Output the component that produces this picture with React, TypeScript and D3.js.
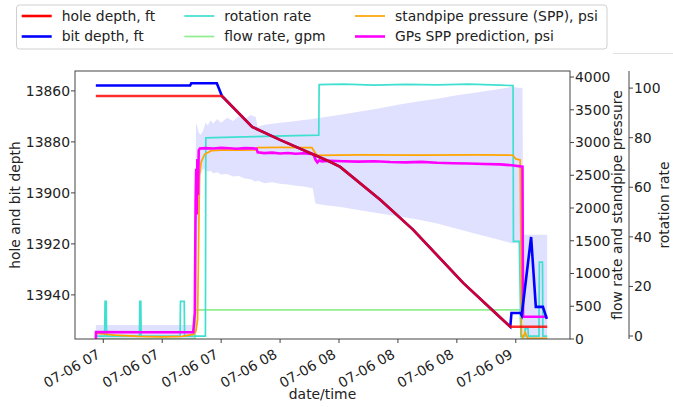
import React from "react";
import * as d3 from "d3";

// ---- data (time in minutes after 07:00 on 07-06) ----
const holeT = [13.1, 45.2, 52.9, 60.0, 72.7, 75.3, 85.5, 93.9, 106.6, 115.3, 118.6, 128.0];
const holeDepth = [13862.0, 13862.0, 13874.1, 13879.2, 13887.8, 13889.8, 13902.7, 13914.5, 13935.3, 13947.8, 13952.5, 13952.5];

const bitT = [13.1, 37.1, 37.4, 43.9, 45.2, 52.9, 60.0, 72.7, 75.3, 85.5, 93.9, 106.6, 115.3, 118.6, 118.9, 121.2, 121.5, 123.9, 125.1, 126.9, 127.9];
const bitDepth = [13857.9, 13857.9, 13857.0, 13857.0, 13862.0, 13874.1, 13879.2, 13887.8, 13889.8, 13902.7, 13914.5, 13935.3, 13947.8, 13952.5, 13947.1, 13947.1, 13948.0, 13917.3, 13944.7, 13944.7, 13949.4];

const rotT = [13.1, 15.35, 15.45, 15.75, 15.85, 24.2, 24.3, 24.55, 24.65, 34.55, 34.65, 35.6, 35.7, 41.0, 41.1, 48, 56, 64, 69.85, 69.95, 76, 84, 92, 100, 108, 116, 119.3, 119.4, 120.9, 121.3, 122.3, 122.4, 123.1, 123.2, 125.9, 126.0, 126.8, 126.9, 128.0];
const rotRate = [0, 0, 14, 14, 0, 0, 14, 14, 0, 0, 14, 14, 0, 0, 79.9, 80.2, 80.5, 80.8, 81.0, 101.4, 101.6, 101.2, 101.5, 101.3, 101.6, 101.2, 101.0, 38.2, 38.2, 0, 0, 3, 3, 0, 0, 29.8, 29.8, 0, 0];

const flowT = [13.1, 38.3, 38.4, 121.1, 121.4, 128.0];
const flowRate = [0, 0, 445, 445, 0, 0];

const sppT = [13.1, 18, 24, 30, 35, 37.9, 38.6, 39.0, 39.5, 39.9, 40.8, 42.5, 45, 50, 53.8, 54.3, 60, 66, 68.1, 69.2, 69.6, 80, 95, 110, 119.3, 120.0, 121.1, 121.5, 121.8, 122.4, 123.0, 128.0];
const sppVal = [90, 60, 40, 32, 40, 70, 120, 300, 2500, 2700, 2820, 2875, 2885, 2885, 2888, 2921, 2925, 2922, 2921, 2820, 2805, 2810, 2808, 2812, 2806, 2750, 2733, 60, 20, 100, 10, 10];

const gpT = [13.1, 13.15, 25, 37.9, 38.3, 38.5, 38.65, 38.8, 38.95, 39.1, 39.3, 39.6, 41, 43, 45, 47, 49, 51, 53, 54.0, 54.3, 56, 58, 60, 62, 64, 66, 68.5, 69.0, 69.5, 70.0, 70.6, 72.7, 76, 80, 84, 88, 92, 96, 100, 104, 108, 112, 116, 119, 121.7, 121.85, 128.0];
const gpVal = [0, 105, 103, 102, 400, 2100, 2600, 1900, 2750, 2200, 2880, 2910, 2915, 2908, 2918, 2912, 2905, 2914, 2910, 2906, 2850, 2838, 2846, 2832, 2841, 2828, 2836, 2822, 2740, 2695, 2728, 2712, 2722, 2715, 2708, 2714, 2702, 2697, 2705, 2690, 2684, 2679, 2672, 2666, 2652, 2631, 340, 340];

const bandT = [13.1, 37.9, 38.3, 38.6, 38.9, 39.3, 39.8, 40.4, 41.0, 41.6, 42.3, 43.0, 44.0, 45.0, 46.5, 48.0, 49.5, 51.0, 52.5, 53.8, 54.3, 56, 58, 60, 62, 64, 66, 68.3, 69.0, 69.5, 72, 75, 80, 85, 90, 95, 100, 105, 110, 115, 119.0, 121.7, 121.9, 128.0];
const bandHi = [215, 215, 600, 3300, 3250, 3150, 3120, 3180, 3300, 3260, 3340, 3290, 3360, 3300, 3380, 3330, 3400, 3350, 3420, 3390, 3240, 3270, 3285, 3300, 3315, 3330, 3345, 3360, 3370, 3372, 3395, 3420, 3470, 3520, 3575, 3625, 3670, 3720, 3765, 3810, 3850, 3830, 1590, 1590];
const bandLo = [-300, -300, -300, -300, 1500, 2200, 2500, 2600, 2580, 2555, 2570, 2530, 2545, 2510, 2520, 2480, 2490, 2450, 2440, 2400, 2420, 2380, 2395, 2370, 2360, 2340, 2330, 2300, 2070, 2060, 2040, 2020, 1970, 1920, 1875, 1825, 1765, 1683, 1604, 1525, 1461, 1461, -300, -300];

const xTickMinutes = [15, 30, 45, 60, 75, 90, 105, 120];
const depthTicks = [13860, 13880, 13900, 13920, 13940];
const flowTicks = [0, 500, 1000, 1500, 2000, 2500, 3000, 3500, 4000];
const rotTicks = [0, 20, 40, 60, 80, 100];

const legendItems = [
  { label: "hole depth, ft", color: "#ff0000", w: 2.6 },
  { label: "bit depth, ft", color: "#0000ff", w: 2.6 },
  { label: "rotation rate", color: "#40E0D0", w: 1.7 },
  { label: "flow rate, gpm", color: "#90EE90", w: 1.7 },
  { label: "standpipe pressure (SPP), psi", color: "#FFA500", w: 1.7 },
  { label: "GPs SPP prediction, psi", color: "#FF00FF", w: 2.6 },
];

const base = new Date(2019, 6, 6, 7, 0, 0).getTime();
const toDate = (m: number) => new Date(base + m * 60000);

const W = 673, H = 407;
const L = 75, R = 570, T = 71, B = 339;
const FONT = "DejaVu Sans, sans-serif";
const TXT = "#222";
const SPINE = "#444";

export default function App() {
  const x = d3.scaleTime().domain([toDate(7.8), toDate(133.8)]).range([L, R]);
  const yD = d3.scaleLinear().domain([13852.2, 13957.3]).range([T, B]);
  const yF = d3.scaleLinear().domain([0, 4092]).range([B, T]);
  const yR = d3.scaleLinear().domain([-1.2, 106.9]).range([B, T]);
  const fmt = d3.timeFormat("%m-%d %H");

  const mk = (ts: number[], vs: number[], y: d3.ScaleLinear<number, number>) =>
    d3.line<number>().x((_, i) => x(toDate(ts[i]))).y((v) => y(v))(vs) || "";

  const bandPath =
    d3
      .area<number>()
      .x((_, i) => x(toDate(bandT[i])))
      .y0((_, i) => yF(bandLo[i]))
      .y1((v) => yF(v))(bandHi) || "";

  return (
    <svg
      width={W}
      height={H}
      style={{ position: "fixed", left: 0, top: 0, background: "#fff" }}
      fontFamily={FONT}
    >
      <defs>
        <clipPath id="plotclip">
          <rect x={L} y={T} width={R - L} height={B - T} />
        </clipPath>
      </defs>
      <rect x={0} y={0} width={W} height={H} fill="#fff" />
      <line x1={613} x2={673} y1={53.5} y2={53.5} stroke="#e2e2e2" strokeWidth={1} />

      <g clipPath="url(#plotclip)">
        <path d={bandPath} fill="#0000ff" fillOpacity={0.12} stroke="none" />
        <path d={mk(flowT, flowRate, yF)} fill="none" stroke="#90EE90" strokeWidth={1.7} />
        <path d={mk(rotT, rotRate, yR)} fill="none" stroke="#40E0D0" strokeWidth={1.7} />
        <path d={mk(sppT, sppVal, yF)} fill="none" stroke="#FFA500" strokeWidth={1.7} />
        <path d={mk(gpT, gpVal, yF)} fill="none" stroke="#FF00FF" strokeWidth={2.6} />
        <path d={mk(bitT, bitDepth, yD)} fill="none" stroke="#0000ff" strokeWidth={2.6} />
        <path d={mk(holeT, holeDepth, yD)} fill="none" stroke="#ff0000" strokeOpacity={0.82} strokeWidth={2.6} />
      </g>

      {/* frame */}
      <rect x={L} y={T} width={R - L} height={B - T} fill="none" stroke={SPINE} strokeWidth={1} />

      {/* left axis */}
      {depthTicks.map((v) => (
        <g key={"d" + v}>
          <line x1={L - 4} x2={L} y1={yD(v)} y2={yD(v)} stroke={SPINE} />
          <text x={L - 5} y={yD(v)} dy="0.35em" textAnchor="end" fontSize={13.9} fill={TXT}>
            {v}
          </text>
        </g>
      ))}
      <text
        transform={`translate(20,${(T + B) / 2}) rotate(-90)`}
        textAnchor="middle"
        fontSize={13.9}
        fill={TXT}
      >
        hole and bit depth
      </text>

      {/* right axis 1: flow/SPP */}
      {flowTicks.map((v) => (
        <g key={"f" + v}>
          <line x1={R} x2={R + 4} y1={yF(v)} y2={yF(v)} stroke={SPINE} />
          <text x={R + 5} y={yF(v)} dy="0.35em" textAnchor="start" fontSize={13.9} fill={TXT}>
            {v}
          </text>
        </g>
      ))}
      <text
        transform={`translate(622,${(T + B) / 2}) rotate(-90)`}
        textAnchor="middle"
        fontSize={13.9}
        fill={TXT}
      >
        flow rate and standpipe pressure
      </text>

      {/* right axis 2: rotation */}
      <line x1={629} x2={629} y1={T} y2={B} stroke={SPINE} strokeWidth={1} />
      {rotTicks.map((v) => (
        <g key={"r" + v}>
          <line x1={629} x2={633} y1={yR(v)} y2={yR(v)} stroke={SPINE} />
          <text x={634} y={yR(v)} dy="0.35em" textAnchor="start" fontSize={13.9} fill={TXT}>
            {v}
          </text>
        </g>
      ))}
      <text
        transform={`translate(669,${(T + B) / 2}) rotate(-90)`}
        textAnchor="middle"
        fontSize={13.9}
        fill={TXT}
      >
        rotation rate
      </text>

      {/* x axis */}
      {xTickMinutes.map((m) => {
        const px = x(toDate(m));
        return (
          <g key={"x" + m}>
            <line x1={px} x2={px} y1={B} y2={B + 4} stroke={SPINE} />
            <text
              transform={`translate(${px - 2},${B + 18}) rotate(-30)`}
              textAnchor="end"
              fontSize={13.9}
              fill={TXT}
            >
              {fmt(toDate(m))}
            </text>
          </g>
        );
      })}
      <text x={(L + R) / 2} y={399} textAnchor="middle" fontSize={13.9} fill={TXT}>
        date/time
      </text>

      {/* legend */}
      <rect x={16.5} y={5} width={590.5} height={44} rx={3} fill="#fff" fillOpacity={0.8} stroke="#d0d0d0" strokeWidth={1} />
      {legendItems.map((it, i) => {
        const col = Math.floor(i / 2);
        const row = i % 2;
        const lx = [21.7, 184.3, 355][col];
        const ty = 16 + row * 20.5;
        return (
          <g key={it.label}>
            <line x1={lx} x2={lx + 30} y1={ty} y2={ty} stroke={it.color} strokeWidth={it.w} />
            <text x={lx + 40} y={ty} dy="0.35em" fontSize={13.9} fill={TXT}>
              {it.label}
            </text>
          </g>
        );
      })}
    </svg>
  );
}
